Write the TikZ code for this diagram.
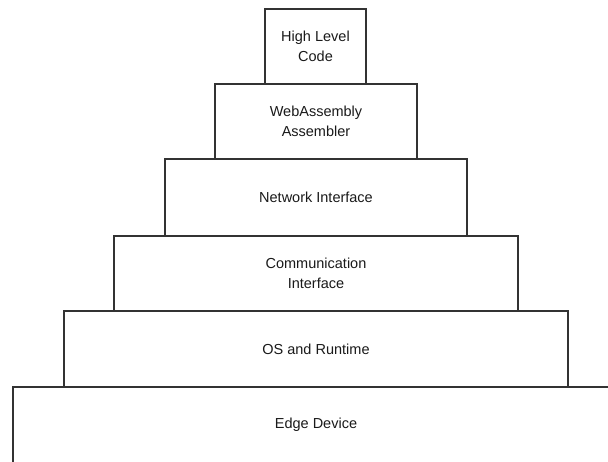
\documentclass[tikz,border=0pt]{standalone}
\usepackage{fontspec}
\setmainfont{Liberation Sans}
\definecolor{edge}{HTML}{333333}
\definecolor{txt}{HTML}{1A1A1A}
\begin{document}
\begin{tikzpicture}[x=1pt,y=-1pt,
  layer/.style={draw=edge, line width=1.1pt, fill=white, inner sep=0pt, outer sep=0pt,
    align=center, text=txt, font=\fontsize{14.5}{20}\selectfont, minimum height=#1},
  layer/.default=75pt]
\useasboundingbox (0,0) rectangle (608,462);
\clip (0,0) rectangle (608,462);
\node[layer=76pt, minimum width=606pt] (edge) at (316,425) {Edge Device};
\node[layer=76pt, minimum width=504pt] (os) at (316,349) {OS and Runtime};
\node[layer=75pt, minimum width=404pt] (comm) at (316,273.5) {Communication\\Interface};
\node[layer=77pt, minimum width=302pt] (net) at (316,197.5) {Network Interface};
\node[layer=75pt, minimum width=202pt] (wasm) at (316,121.5) {WebAssembly\\Assembler};
\node[layer=75pt, minimum width=101pt] (hlc) at (315.5,46.5) {High Level\\Code};
\end{tikzpicture}
\end{document}
